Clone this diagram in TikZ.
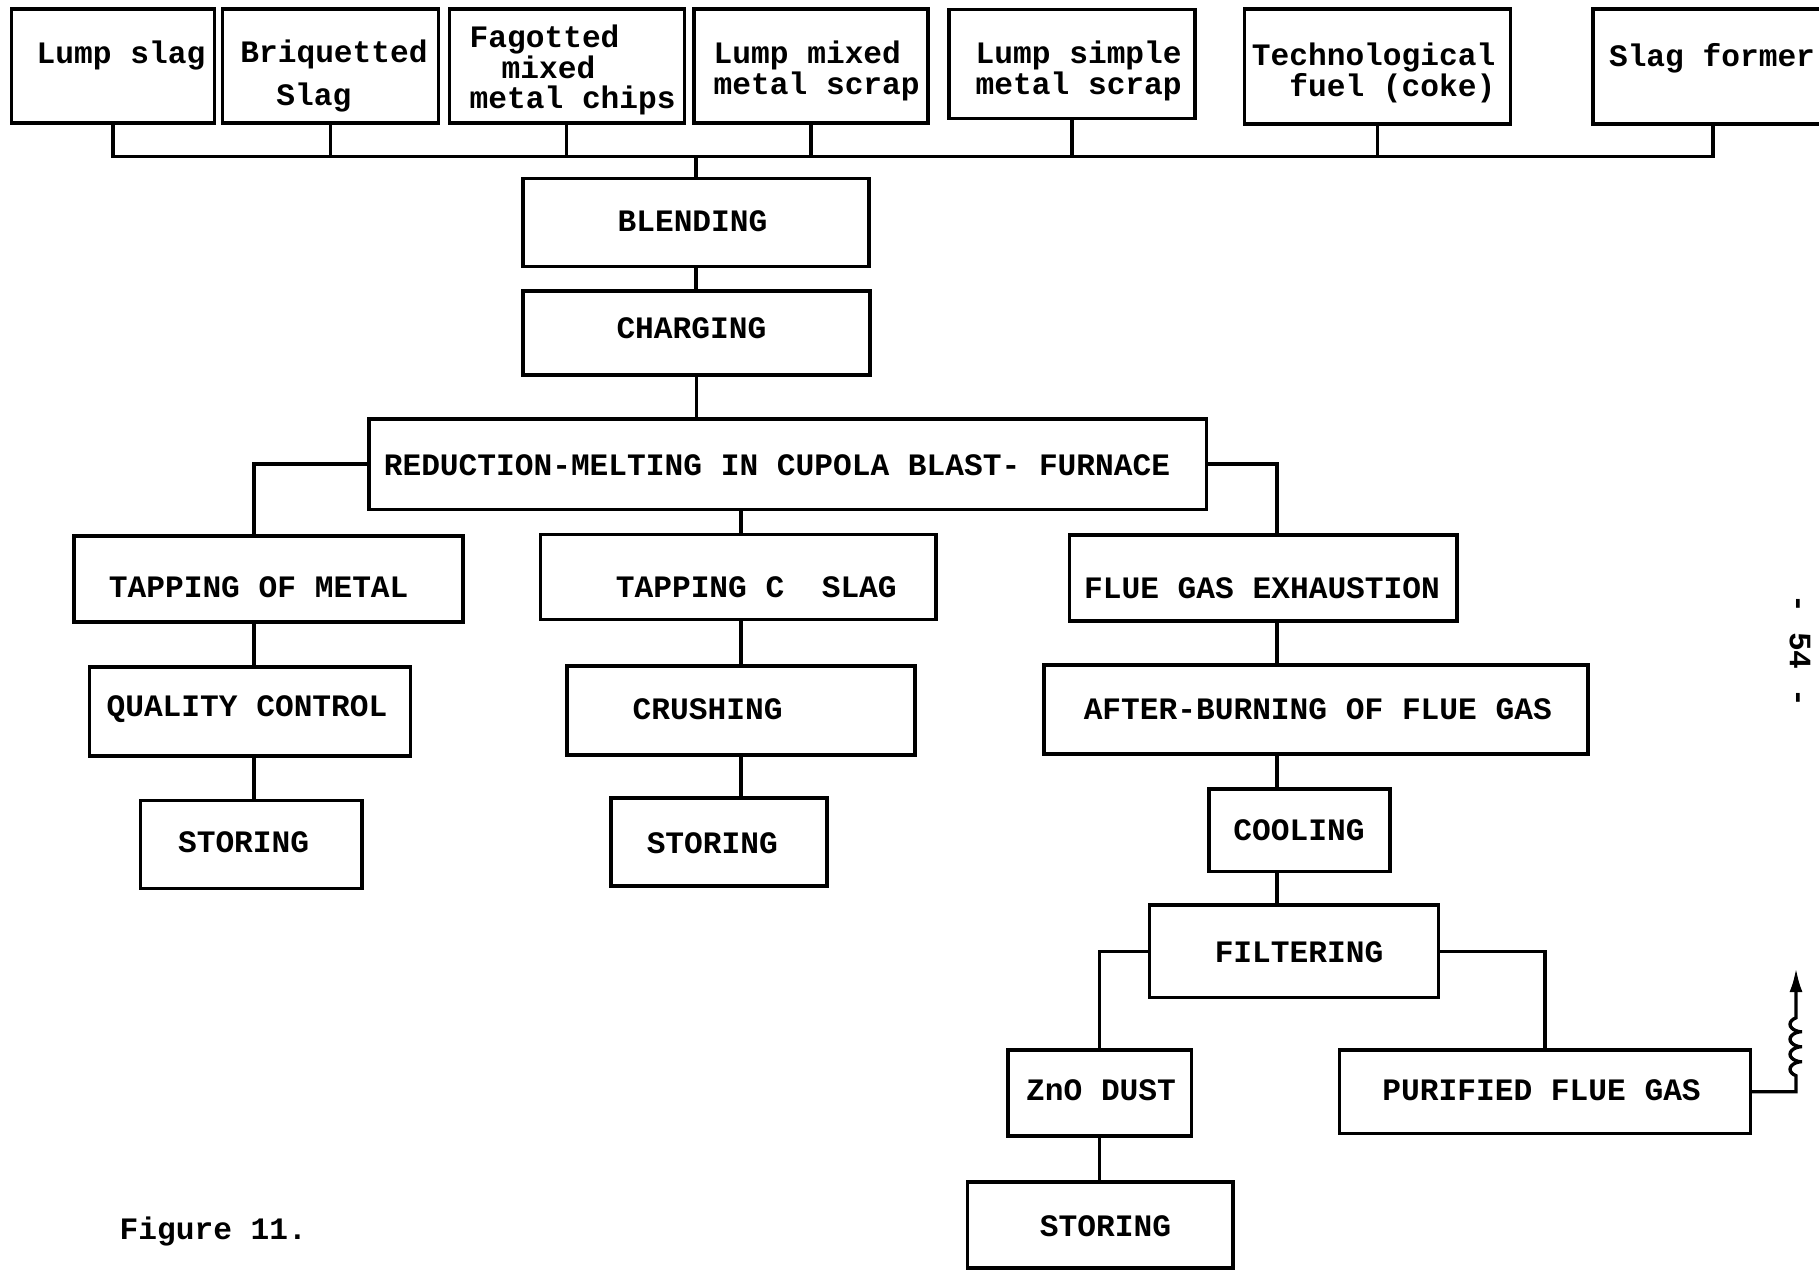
\documentclass[tikz,border=0pt]{standalone}
\usepackage{fontspec}
\setmonofont{Liberation Mono}
\usetikzlibrary{arrows.meta,decorations.pathmorphing}
\begin{document}
\begin{tikzpicture}[x=0.5pt,y=-0.5pt,
  line width=1.7pt,
  box/.style={draw, rectangle, inner sep=0pt, line width=1.7pt},
  txt/.style={inner sep=0pt, font=\ttfamily\bfseries\fontsize{15.6}{15.1}\selectfont},
  wire/.style={line width=1.7pt}]
\useasboundingbox (0,0) rectangle (1819,1269);

% ---- raw materials (top row) ----
\node[box, minimum width=101.5pt, minimum height=57pt] (b1) at (113,66) {};
\node[box, minimum width=108pt,  minimum height=57pt] (b2) at (330.6,66) {};
\node[box, minimum width=117.5pt, minimum height=57pt] (b3) at (566.7,66) {};
\node[box, minimum width=117pt,  minimum height=57pt] (b4) at (811,66) {};
\node[box, minimum width=123pt,  minimum height=54.5pt] (b5) at (1072,64) {};
\node[box, minimum width=133pt,  minimum height=57.5pt] (b6) at (1377.5,66.5) {};
\node[box, minimum width=120pt,  minimum height=57.5pt] (b7) at (1713,66.5) {};

\node[txt] (t1) at (121,56) {Lump slag};
\node[txt, align=left] (t2) at (334,76) {Briquetted\\[6pt]\hspace*{18pt}Slag};
\node[txt, align=left, anchor=west] (t3) at (468,70) {Fagotted\\\hspace*{16pt}mixed\\metal chips};
\node[txt, align=left, anchor=west] (t4) at (712,71) {Lump mixed\\metal scrap};
\node[txt, align=left, anchor=west] (t5) at (974,71) {Lump simple\\metal scrap};
\node[txt, align=right, anchor=east] (t6) at (1497,73) {Technological\\fuel (coke)};
\node[txt] (t7) at (1712,58) {Slag former};

% ---- process steps ----
\node[box, minimum width=173pt, minimum height=44pt] (blend) at (696,222.7) {};
\node[txt] (blendt) at (692.5,221.6) {BLENDING};
\node[box, minimum width=173.5pt, minimum height=42pt] (charge) at (696.5,333) {};
\node[txt] (charget) at (691.4,328.3) {CHARGING};
\node[box, minimum width=418.7pt, minimum height=45.2pt] (red) at (787.7,464) {};
\node[txt] (redt) at (777,465.2) {REDUCTION-MELTING IN CUPOLA BLAST- FURNACE};

% left column: metal
\node[box, minimum width=194.5pt, minimum height=43pt] (tapm) at (268.6,579) {};
\node[txt] (tapmt) at (258.7,587) {TAPPING OF METAL};
\node[box, minimum width=160.7pt, minimum height=44.5pt] (qc) at (250,711.6) {};
\node[txt] (qct) at (247,708.8) {QUALITY CONTROL};
\node[box, minimum width=110.8pt, minimum height=44pt] (stl) at (251,844.5) {};
\node[txt] (stlt) at (243.6,842) {STORING};

% middle column: slag
\node[box, minimum width=197.8pt, minimum height=42.3pt] (taps) at (738,577) {};
\node[txt] (tapst) at (756.3,587) {TAPPING C\ \ SLAG};
\node[box, minimum width=174pt, minimum height=44.5pt] (crush) at (741,710.5) {};
\node[txt] (crusht) at (707.6,708.8) {CRUSHING};
\node[box, minimum width=108pt, minimum height=44pt] (stm) at (719,842) {};
\node[txt] (stmt) at (712.3,843.3) {STORING};

% right column: flue gas
\node[box, minimum width=193.8pt, minimum height=43pt] (flue) at (1263.3,578) {};
\node[txt] (fluet) at (1262,588) {FLUE GAS EXHAUSTION};
\node[box, minimum width=272pt, minimum height=44.6pt] (after) at (1316,709.4) {};
\node[txt] (aftert) at (1317.8,708.8) {AFTER-BURNING OF FLUE GAS};
\node[box, minimum width=90.5pt, minimum height=41.2pt] (cool) at (1299.3,830) {};
\node[txt] (coolt) at (1299,830.6) {COOLING};
\node[box, minimum width=144.5pt, minimum height=46.4pt] (filt) at (1294,951.3) {};
\node[txt] (filtt) at (1299,952.4) {FILTERING};
\node[box, minimum width=91.7pt, minimum height=42.9pt] (zno) at (1099.7,1093) {};
\node[txt] (znot) at (1101,1090.4) {ZnO DUST};
\node[box, minimum width=132.8pt, minimum height=43pt] (stb) at (1100,1225) {};
\node[txt] (stbt) at (1105.5,1226) {STORING};
\node[box, minimum width=205.3pt, minimum height=41.7pt] (pur) at (1545,1091.7) {};
\node[txt] (purt) at (1541.6,1090.4) {PURIFIED FLUE GAS};

% caption and page number
\node[txt, anchor=west] (fig) at (118,1231) {Figure 11.};
\node[txt, rotate=-90] (page) at (1800,651) {- 54 -};

% ---- connectors ----
\coordinate (bus) at (0,156.6);
\coordinate (lx) at (254,0);
\coordinate (mx) at (741,0);
\coordinate (rx) at (1277,0);
\coordinate (exh) at (1796,968);

\draw[wire] (b1.south) -- (b1.south |- bus) -- (b7.south |- bus) -- (b7.south);
\foreach \b in {b2,b3,b4,b5,b6} \draw[wire] (\b.south) -- (\b.south |- bus);
\draw[wire] (blend.north) -- (blend.north |- bus);
\draw[wire] (blend.south) -- (blend.south |- charge.north);
\draw[wire] (charge.south) -- (charge.south |- red.north);

\draw[wire] (red.west) -| (lx |- tapm.north);
\draw[wire] (lx |- tapm.south) -- (lx |- qc.north);
\draw[wire] (lx |- qc.south) -- (lx |- stl.north);

\draw[wire] (mx |- red.south) -- (mx |- taps.north);
\draw[wire] (mx |- taps.south) -- (mx |- crush.north);
\draw[wire] (mx |- crush.south) -- (mx |- stm.north);

\draw[wire] (red.east) -| (rx |- flue.north);
\draw[wire] (rx |- flue.south) -- (rx |- after.north);
\draw[wire] (rx |- after.south) -- (rx |- cool.north);
\draw[wire] (rx |- cool.south) -- (rx |- filt.north);

\draw[wire] (filt.west) -| (zno.north);
\draw[wire] (filt.east) -| (pur.north);
\draw[wire] (zno.south) -- (zno.south |- stb.north);

% purified gas released through the stack
\draw[wire, -{Latex[length=12pt,width=6.5pt]}]
  (pur.east) -- (pur.east -| exh)
  -- ++(0,-16)
  decorate[decoration={coil, aspect=0.45, amplitude=3pt, segment length=7.5pt}] {-- ++(0,-62)}
  -- (exh);
\end{tikzpicture}
\end{document}
